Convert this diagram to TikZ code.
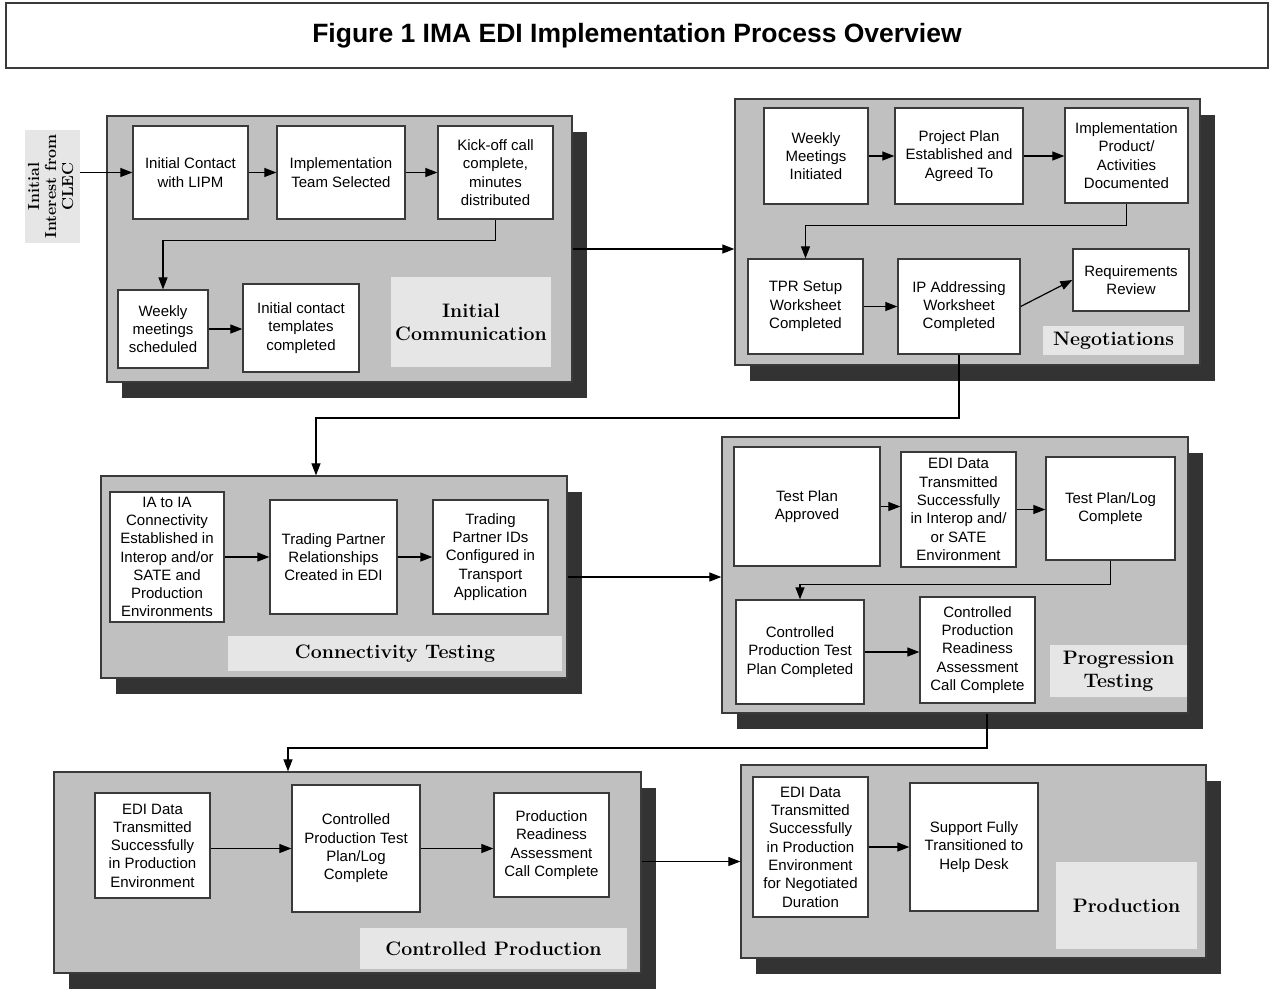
\documentclass[tikz,border=0pt]{standalone}
\usepackage{fontspec}
\newfontfamily\boxfont{Liberation Sans}
\usetikzlibrary{arrows.meta,shadows}

\definecolor{panelgray}{HTML}{C0C0C0}
\definecolor{shadowgray}{HTML}{333333}
\definecolor{labelgray}{HTML}{E6E6E6}
\definecolor{edgegray}{HTML}{3A3A3A}

\tikzset{
  panel/.style={draw=edgegray, line width=1.3pt, fill=panelgray, inner sep=0pt,
    drop shadow={shadow xshift=15pt, shadow yshift=-16pt, fill=shadowgray, opacity=1}},
  taskbox/.style={draw=edgegray, line width=1.3pt, fill=white, align=center, inner sep=0pt,
    font=\boxfont\fontsize{15}{18.3}\selectfont},
  stagelabel/.style={fill=labelgray, align=center, inner sep=0pt,
    font=\bfseries\fontsize{19.5}{23}\selectfont},
  flow/.style={line width=1.2pt, -{Triangle[length=12pt,width=9pt]}}
}

\begin{document}
\begin{tikzpicture}[x=1pt, y=-1pt]
        \useasboundingbox (0,0) rectangle (1272,989);

        % Title
        \node[draw=edgegray, line width=1.5pt, minimum width=1262pt, minimum height=65pt, inner sep=0pt,
          font=\boxfont\bfseries\fontsize{26.5}{30}\selectfont] (title) at (637,35.5)
          {Figure 1 IMA EDI Implementation Process Overview};

        % Panels
        \node[panel, minimum width=465pt, minimum height=266pt] (initcomm) at (339.5,249) {};
        \node[panel, minimum width=465pt, minimum height=266pt] (negot) at (967.5,232) {};
        \node[panel, minimum width=466pt, minimum height=202pt] (conntest) at (334,577) {};
        \node[panel, minimum width=466pt, minimum height=276pt] (progtest) at (955,575) {};
        \node[panel, minimum width=587pt, minimum height=201pt] (ctrlprod) at (347.5,872.5) {};
        \node[panel, minimum width=465pt, minimum height=193pt] (prod) at (973.5,861.5) {};

        % Stage labels
        \node[stagelabel, minimum width=55pt, minimum height=113pt] (interest) at (52.5,186.5)
          {\fontsize{16}{18}\selectfont\rotatebox{90}{\begin{tabular}{@{}c@{}}Initial\\[-1pt]Interest from\\[-1pt]CLEC\end{tabular}}};
        \node[stagelabel, minimum width=160pt, minimum height=90pt] (lblinit) at (471,322) {Initial\\Communication};
        \node[stagelabel, minimum width=141pt, minimum height=29pt] (lblnegot) at (1113.5,340.5) {Negotiations};
        \node[stagelabel, minimum width=334pt, minimum height=35pt] (lblconn) at (395,653.5) {Connectivity Testing};
        \node[stagelabel, minimum width=137pt, minimum height=52pt] (lblprog) at (1118.5,671) {Progression\\Testing};
        \node[stagelabel, minimum width=267pt, minimum height=41pt] (lblctrl) at (493.5,948.5) {Controlled Production};
        \node[stagelabel, minimum width=141pt, minimum height=87pt] (lblprod) at (1126.5,905.5) {Production};

        % Initial Communication
        \node[taskbox, minimum width=115pt, minimum height=93pt] (contact) at (190.5,172.5) {Initial Contact\\with LIPM};
        \node[taskbox, minimum width=128pt, minimum height=93pt] (team) at (341,172.5) {Implementation\\Team Selected};
        \node[taskbox, minimum width=115pt, minimum height=93pt] (kickoff) at (495.5,172.5) {Kick-off call\\complete,\\minutes\\distributed};
        \node[taskbox, minimum width=90pt, minimum height=78pt] (weekly) at (163,329) {Weekly\\meetings\\scheduled};
        \node[taskbox, minimum width=116pt, minimum height=88pt] (templates) at (301,328) {Initial contact\\templates\\completed};

        % Negotiations
        \node[taskbox, minimum width=104pt, minimum height=96pt] (meetings) at (816,156) {Weekly\\Meetings\\Initiated};
        \node[taskbox, minimum width=128pt, minimum height=96pt] (plan) at (959,156) {Project Plan\\Established and\\Agreed To};
        \node[taskbox, minimum width=123pt, minimum height=95pt] (product) at (1126.5,155.5) {Implementation\\Product/\\Activities\\Documented};
        \node[taskbox, minimum width=115pt, minimum height=95pt] (tpr) at (805.5,306.5) {TPR Setup\\Worksheet\\Completed};
        \node[taskbox, minimum width=122pt, minimum height=95pt] (ipaddr) at (959,306.5) {IP Addressing\\Worksheet\\Completed};
        \node[taskbox, minimum width=116pt, minimum height=62pt] (review) at (1131,280) {Requirements\\Review};

        % Connectivity Testing
        \node[taskbox, minimum width=114pt, minimum height=130pt] (iaia) at (167,557) {IA to IA\\Connectivity\\Established in\\Interop and/or\\SATE and\\Production\\Environments};
        \node[taskbox, minimum width=127pt, minimum height=114pt] (relations) at (333.5,557) {Trading Partner\\Relationships\\Created in EDI};
        \node[taskbox, minimum width=115pt, minimum height=114pt] (partnerids) at (490.5,557) {Trading\\Partner IDs\\Configured in\\Transport\\Application};

        % Progression Testing
        \node[taskbox, minimum width=146pt, minimum height=119pt] (approved) at (807,506.5) {Test Plan\\Approved};
        \node[taskbox, minimum width=115pt, minimum height=115pt] (interop) at (958.5,509.5) {EDI Data\\Transmitted\\Successfully\\in Interop and/\\or SATE\\Environment};
        \node[taskbox, minimum width=129pt, minimum height=103pt] (testlog) at (1110.5,508.5) {Test Plan/Log\\Complete};
        \node[taskbox, minimum width=128pt, minimum height=104pt] (cptest) at (800,652) {Controlled\\Production Test\\Plan Completed};
        \node[taskbox, minimum width=115pt, minimum height=106pt] (cpready) at (977.5,650) {Controlled\\Production\\Readiness\\Assessment\\Call Complete};

        % Controlled Production
        \node[taskbox, minimum width=115pt, minimum height=105pt] (prodenv) at (152.5,845.5) {EDI Data\\Transmitted\\Successfully\\in Production\\Environment};
        \node[taskbox, minimum width=128pt, minimum height=127pt] (cplog) at (356,848.5) {Controlled\\Production Test\\Plan/Log\\Complete};
        \node[taskbox, minimum width=115pt, minimum height=104pt] (prodready) at (551.5,845) {Production\\Readiness\\Assessment\\Call Complete};

        % Production
        \node[taskbox, minimum width=115pt, minimum height=140pt] (duration) at (810.5,847) {EDI Data\\Transmitted\\Successfully\\in Production\\Environment\\for Negotiated\\Duration};
        \node[taskbox, minimum width=128pt, minimum height=128pt] (helpdesk) at (974,847) {Support Fully\\Transitioned to\\Help Desk};

        % Turning points
        \coordinate (turn3) at (316,418);
        \coordinate (turn5a) at (987,748);
        \coordinate (turn5b) at (288,748);

        % Arrows
        \draw[flow] (interest.east |- contact.west) -- (contact.west);
        \draw[flow] (contact) -- (team);
        \draw[flow] (team) -- (kickoff);
        \draw[flow] (kickoff.south) -- ++(0,21) -| (weekly.north);
        \draw[flow] (weekly.east) -- (weekly.east -| templates.west);
        \draw[flow] (initcomm.east) -- (initcomm.east -| negot.west);

        \draw[flow] (meetings) -- (plan);
        \draw[flow] (plan.east) -- (plan.east -| product.west);
        \draw[flow] (product.south) -- ++(0,22) -| (tpr.north);
        \draw[flow] (tpr) -- (ipaddr);
        \draw[flow] (ipaddr.east) -- (review.west);
        \draw[flow] (ipaddr.south) |- (turn3) -- (turn3 |- conntest.north);

        \draw[flow] (iaia) -- (relations);
        \draw[flow] (relations) -- (partnerids);
        \draw[flow] (conntest.east) -- (conntest.east -| progtest.west);

        \draw[flow] (approved.east) -- (approved.east -| interop.west);
        \draw[flow] (interop.east) -- (interop.east -| testlog.west);
        \draw[flow] (testlog.south) -- ++(0,24) -| (cptest.north);
        \draw[flow] (cptest) -- (cptest -| cpready.west);
        \draw[flow] (turn5a |- progtest.south) -- (turn5a) -- (turn5b) -- (turn5b |- ctrlprod.north);

        \draw[flow] (prodenv.east |- cplog.west) -- (cplog.west);
        \draw[flow] (cplog.east) -- (cplog.east -| prodready.west);
        \draw[flow] (prod.west -| ctrlprod.east) -- (prod.west);

        \draw[flow] (duration) -- (helpdesk);
    \end{tikzpicture}
\end{document}
